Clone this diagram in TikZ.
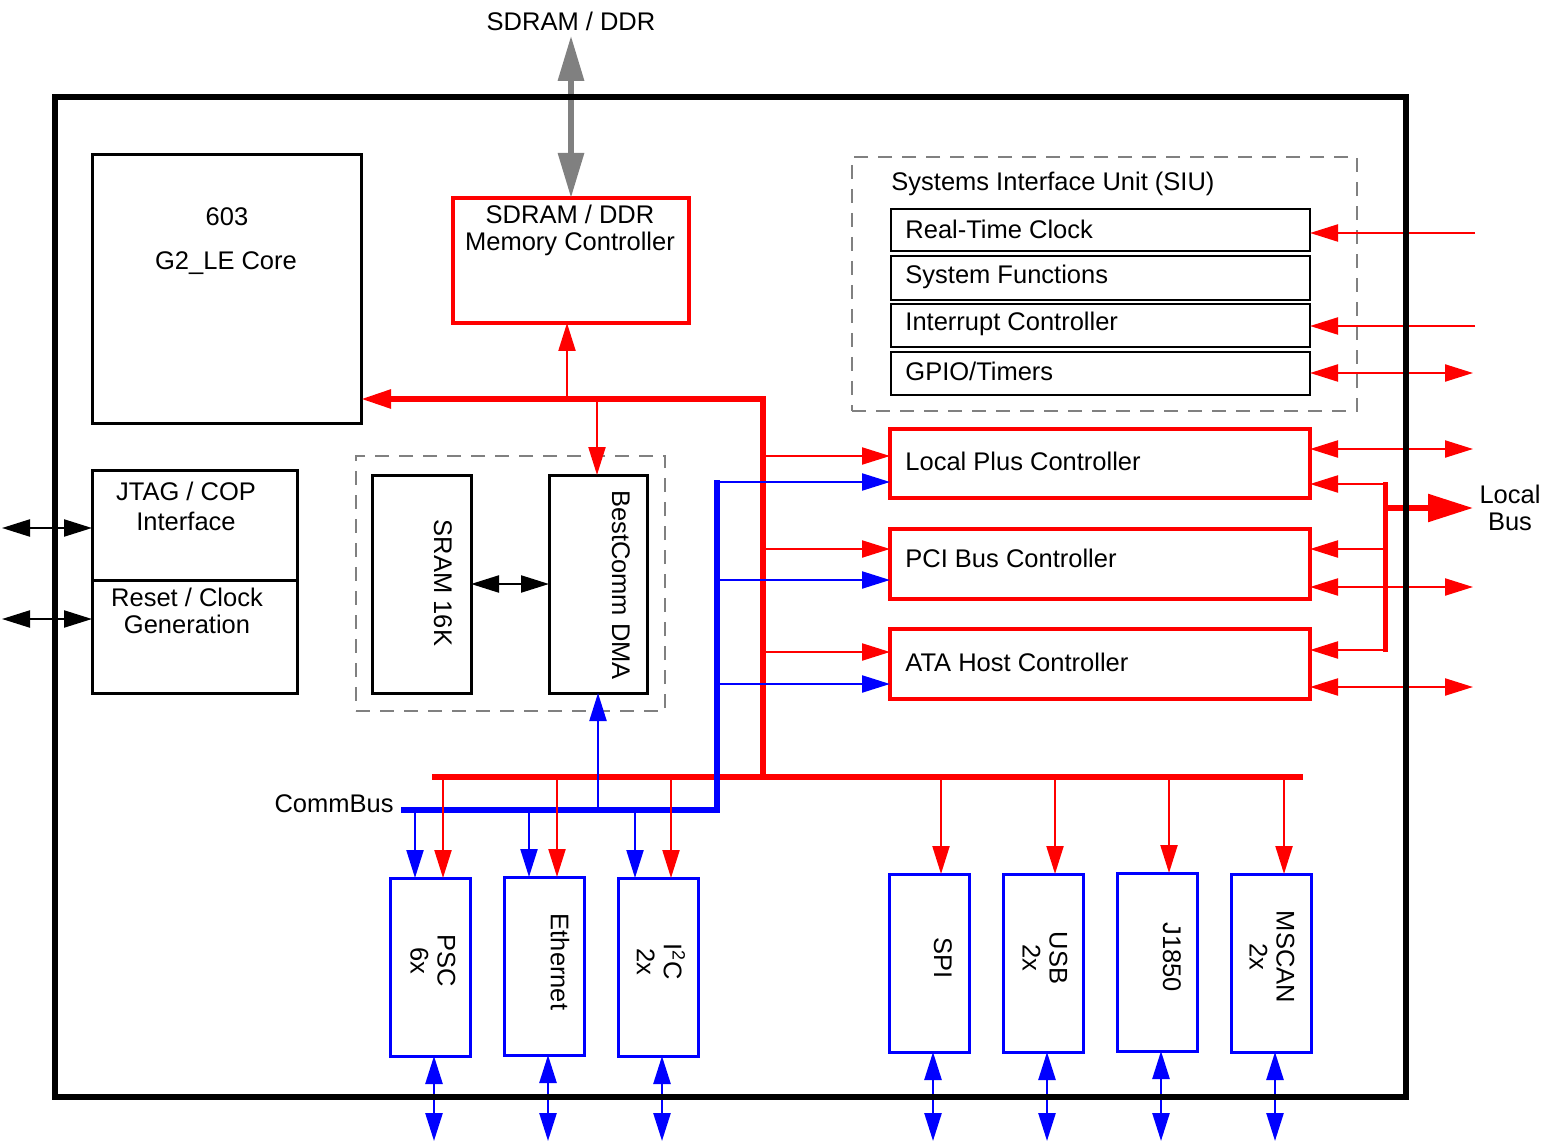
\documentclass[tikz,border=0pt]{standalone}
\usepackage{fontspec}
\setmainfont{Liberation Sans}
\usetikzlibrary{arrows.meta,calc}
\begin{document}
\begin{tikzpicture}[x=0.5pt,y=-0.5pt,
  font=\fontsize{12.75}{13.5}\selectfont,
  box/.style={inner sep=0pt, outer sep=0pt, anchor=north west},
  kbox/.style={box, draw=black, line width=1.5pt},
  sbox/.style={box, draw=black, line width=0.75pt},
  rbox/.style={box, draw=red, line width=1.6pt},
  bbox/.style={box, draw=blue, line width=1.5pt},
  dbox/.style={box, draw=gray, line width=1pt, dash pattern=on 7pt off 5pt},
  rarr/.style={draw=red, line width=1.1pt, -{Triangle[length=14pt,width=8.5pt]}, red},
  rarrr/.style={draw=red, line width=1.1pt, {Triangle[length=14pt,width=8.5pt]}-{Triangle[length=14pt,width=8.5pt]}, red},
  barr/.style={draw=blue, line width=1.1pt, -{Triangle[length=14pt,width=8.5pt]}, blue},
  barrr/.style={draw=blue, line width=1.3pt, {Triangle[length=14pt,width=8.5pt]}-{Triangle[length=14pt,width=8.5pt]}, blue},
  karrr/.style={draw=black, line width=1.1pt, {Triangle[length=14pt,width=8.5pt]}-{Triangle[length=14pt,width=8.5pt]}},
  rbus/.style={draw=red, line width=2.75pt},
  bbus/.style={draw=blue, line width=2.75pt},
  txt/.style={inner sep=0pt, align=center},
  ltxt/.style={inner sep=0pt, anchor=west},
]
\useasboundingbox (0,0) rectangle (1546,1144);

% ---------- blocks ----------
\node[kbox, minimum width=134.5pt, minimum height=134pt] (core) at (92,155) {};
\node[txt] at (227,217) {603};
\node[txt] at (226,263) {G2\_LE Core};

\node[rbox, minimum width=118pt, minimum height=62.5pt] (mem) at (453,198) {};
\node[txt] (memt) at (570,230) {SDRAM / DDR\\Memory Controller};

\node[txt] (ddr) at (571,21) {SDRAM / DDR};

\node[dbox, minimum width=252.5pt, minimum height=127pt] (siu) at (852,157) {};
\node[ltxt] at (891,184) {Systems Interface Unit (SIU)};
\node[sbox, minimum width=209.5pt, minimum height=21pt] (rtc) at (891,209) {};
\node[sbox, minimum width=209.5pt, minimum height=22pt] (sf) at (891,256) {};
\node[sbox, minimum width=209.5pt, minimum height=21.5pt] (ic) at (891,304) {};
\node[sbox, minimum width=209.5pt, minimum height=21.5pt] (gpio) at (891,352) {};
\node[ltxt] at (905,229) {Real-Time Clock};
\node[ltxt] at (905,277) {System Functions};
\node[ltxt] at (905,324) {Interrupt Controller};
\node[ltxt] at (905,371) {GPIO/Timers};

\node[rbox, minimum width=210pt, minimum height=34.5pt] (lpc) at (890,429) {};
\node[rbox, minimum width=210pt, minimum height=35pt] (pci) at (890,529) {};
\node[rbox, minimum width=210pt, minimum height=35pt] (ata) at (890,629) {};
\node[ltxt] at (905,461) {Local Plus Controller};
\node[ltxt] at (905,558) {PCI Bus Controller};
\node[ltxt] at (905,662) {ATA Host Controller};

\node[dbox, minimum width=154.5pt, minimum height=127.5pt] (bcg) at (356,456) {};
\node[kbox, minimum width=49.5pt, minimum height=109pt] (sram) at (372,475) {};
\node[kbox, minimum width=49pt, minimum height=109pt] (dma) at (549,475) {};
\node[txt, rotate=-90] at (443,583) {SRAM 16K};
\node[txt, rotate=-90] at (621,585) {BestComm DMA};

\node[kbox, minimum width=102.5pt, minimum height=55pt] (jtag) at (92,470) {};
\node[kbox, minimum width=102.5pt, minimum height=56.5pt] (rst) at (92,580) {};
\node[txt, font=\fontsize{12.75}{15}\selectfont] at (186,506) {JTAG / COP\\Interface};
\node[txt] at (187,611) {Reset / Clock\\Generation};

\node[inner sep=0pt, anchor=east] (cbl) at (394,804) {CommBus};
\node[txt] (lbl) at (1510,508) {Local\\Bus};

% bottom peripherals
\node[bbox, minimum width=40pt, minimum height=89pt] (psc) at (390,878) {};
\node[bbox, minimum width=40pt, minimum height=89pt] (eth) at (504,877) {};
\node[bbox, minimum width=40pt, minimum height=89pt] (iic) at (618,878) {};
\node[bbox, minimum width=40pt, minimum height=89pt] (spi) at (889,874) {};
\node[bbox, minimum width=40pt, minimum height=89pt] (usb) at (1003,874) {};
\node[bbox, minimum width=40pt, minimum height=89pt] (jbus) at (1117,873) {};
\node[bbox, minimum width=40pt, minimum height=89pt] (can) at (1231,874) {};
\node[txt, rotate=-90] at (433,961) {PSC\\6x};
\node[txt, rotate=-90] at (560,962) {Ethernet};
\node[txt, rotate=-90] at (661,962) {I\textsuperscript{2}C\\2x};
\node[txt, rotate=-90] at (943,958) {SPI};
\node[txt, rotate=-90] at (1045,958) {USB\\2x};
\node[txt, rotate=-90] at (1172,957) {J1850};
\node[txt, rotate=-90] at (1272,957) {MSCAN\\2x};

% ---------- coordinates ----------
\coordinate (rb1) at (763,399);
\coordinate (rb2) at (763,777);
\coordinate (rbL) at (432,777);
\coordinate (rbR) at (1303,777);
\coordinate (cb0) at (401,810);
\coordinate (cb1) at (717,810);
\coordinate (cb2) at (717,480);
\coordinate (m1) at (567,399);
\coordinate (m2) at (597,399);
\coordinate (cbd) at (598,810);

% ---------- connectors ----------
\draw[draw=gray, line width=3pt, {Triangle[length=22.5pt,width=12.5pt]}-{Triangle[length=22.5pt,width=12.5pt]}, gray]
  (ddr.south) ++(0,5) coordinate (ddrtip) (ddrtip) -- (mem.north);

\draw[rbus] (rbL) -- (rbR);
\draw[rbus, -{Triangle[length=15pt,width=9pt]}] (rb2) -- (rb1) -- (rb1 -| core.east);
\draw[rarr] (m1) -- (m1 |- mem.south);
\draw[rarr] (m2) -- (m2 |- dma.north);

\draw[bbus] (cb0) -- (cb1) -- (cb2);
\draw[barr] (cbd) -- (cbd |- dma.south);

\draw[karrr] (sram.east) -- (dma.west);

\coordinate (l1) at (2,528);
\coordinate (l2) at (2,619);
\draw[karrr] (l1) -- (l1 -| jtag.west);
\draw[karrr] (l2) -- (l2 -| rst.west);

% controllers from buses
\coordinate (r1) at (763,456);
\coordinate (r2) at (763,549);
\coordinate (r3) at (763,652);
\coordinate (b1) at (717,482);
\coordinate (b2) at (717,580);
\coordinate (b3) at (717,684);
\draw[rarr] (r1) -- (r1 -| lpc.west);
\draw[rarr] (r2) -- (r2 -| pci.west);
\draw[rarr] (r3) -- (r3 -| ata.west);
\draw[barr] (b1) -- (b1 -| lpc.west);
\draw[barr] (b2) -- (b2 -| pci.west);
\draw[barr] (b3) -- (b3 -| ata.west);

% SIU external
\coordinate (s1) at (1475,233);
\coordinate (s2) at (1475,326);
\coordinate (s3) at (1473,373);
\draw[rarr] (s1) -- (s1 -| rtc.east);
\draw[rarr] (s2) -- (s2 -| ic.east);
\draw[rarrr] (s3 -| gpio.east) -- (s3);

% local bus side
\coordinate (e1) at (1473,449);
\coordinate (e2) at (1473,587);
\coordinate (e3) at (1473,687);
\draw[rarrr] (e1 -| lpc.east) -- (e1);
\draw[rarrr] (e2 -| pci.east) -- (e2);
\draw[rarrr] (e3 -| ata.east) -- (e3);
\coordinate (lb1) at (1385,482);
\coordinate (lb2) at (1385,652);
\coordinate (f1) at (1385,484);
\coordinate (f2) at (1385,549);
\coordinate (f3) at (1385,650);
\coordinate (lbm) at (1385,508);
\coordinate (lbo) at (1473,508);
\draw[draw=red, line width=2.5pt] (lb1) -- (lb2);
\draw[rarr] (f1) -- (f1 -| lpc.east);
\draw[rarr] (f2) -- (f2 -| pci.east);
\draw[rarr] (f3) -- (f3 -| ata.east);
\draw[draw=red, line width=2.75pt, -{Triangle[length=22.5pt,width=13.5pt]}] (lbm) -- (lbo);

% bottom peripherals from buses
\foreach \bx/\nd in {415/psc, 529/eth, 635/iic}{
  \coordinate (tmpb) at (\bx,810);
  \draw[barr] (tmpb) -- (tmpb |- \nd.north);
}
\foreach \rx/\nd in {443/psc, 557/eth, 671/iic, 941/spi, 1055/usb, 1169/jbus, 1284/can}{
  \coordinate (tmpr) at (\rx,777);
  \draw[rarr] (tmpr) -- (tmpr |- \nd.north);
}
\foreach \dx/\nd in {434/psc, 548/eth, 662/iic, 933/spi, 1047/usb, 1161/jbus, 1275/can}{
  \coordinate (tmpd) at (\dx,1141);
  \draw[barrr] (tmpd |- \nd.south) -- (tmpd);
}

% outer chip boundary (on top)
\node[box, draw=black, line width=3pt, minimum width=675.5pt, minimum height=500pt] (chip) at (55,97) {};
\end{tikzpicture}
\end{document}
